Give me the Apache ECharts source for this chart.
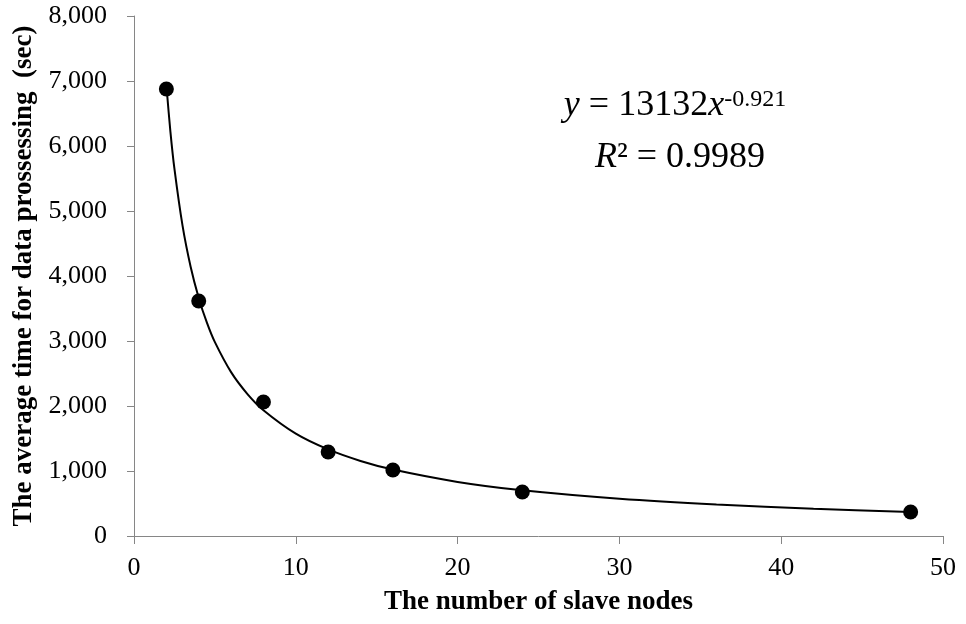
<!DOCTYPE html>
<html><head><meta charset="utf-8">
<script src="https://cdn.jsdelivr.net/npm/echarts@6/dist/echarts.min.js"></script>
<style>html,body{margin:0;padding:0;background:#fff}#c{width:966px;height:624px}</style>
</head><body><div id="c"></div>
<script>
const nodes = [2, 4, 8, 12, 16, 24, 48];
const times = [6877, 3615, 2062, 1292, 1015, 677, 369];
const trendX = [2, 2.25, 2.5, 3, 3.5, 4, 4.5, 5, 6, 7, 8, 10, 12, 14, 16, 20, 24, 30, 36, 42, 48];
const trendY = [6936, 6222, 5647, 4774, 4142, 3663, 3286, 2982, 2521, 2188, 1935, 1575, 1332, 1155, 1022, 832, 703, 573, 484, 420, 371];
const xTitle = 'The number of slave nodes';
const yTitle = 'The average time for data prossessing  (sec)';

const chart = echarts.init(document.getElementById('c'), null, {renderer: 'canvas'});
const serif = '"Liberation Serif", "Times New Roman", serif';
chart.setOption({
  animation: false,
  backgroundColor: '#fff',
  grid: {left: 134, right: 23, top: 16, bottom: 88},
  xAxis: {
    type: 'value', min: 0, max: 50, interval: 10,
    name: xTitle, nameLocation: 'middle', nameGap: 53,
    nameTextStyle: {fontFamily: serif, fontWeight: 'bold', fontSize: 27, color: '#000'},
    axisLine: {lineStyle: {color: '#868686', width: 1}},
    axisTick: {show: true, length: 8, lineStyle: {color: '#868686'}},
    axisLabel: {fontFamily: serif, fontSize: 26, color: '#000', margin: 19},
    splitLine: {show: false}
  },
  yAxis: {
    type: 'value', min: 0, max: 8000, interval: 1000,
    name: yTitle, nameLocation: 'middle', nameGap: 94,
    nameTextStyle: {fontFamily: serif, fontWeight: 'bold', fontSize: 27, color: '#000'},
    axisLine: {show: true, lineStyle: {color: '#868686', width: 1}},
    axisTick: {show: true, length: 7, lineStyle: {color: '#868686'}},
    axisLabel: {fontFamily: serif, fontSize: 26, color: '#000', margin: 27,
      formatter: v => v.toLocaleString('en-US')},
    splitLine: {show: false}
  },
  series: [
    {type: 'line', data: trendX.map((x, i) => [x, trendY[i]]), smooth: 0.3, showSymbol: false,
     lineStyle: {color: '#000', width: 2}, z: 2},
    {type: 'scatter', data: nodes.map((x, i) => [x, times[i]]), symbol: 'circle', symbolSize: 15,
     itemStyle: {color: '#000', opacity: 1}, z: 3}
  ],
  graphic: [
    {type: 'text', x: 675, y: 106, style: {
      text: '{i|y} = 13132{i|x}{s|-0.921}',
      font: '36px ' + serif, fill: '#000', align: 'center', verticalAlign: 'middle',
      rich: {i: {fontStyle: 'italic', fontFamily: serif, fontSize: 36},
             s: {fontFamily: serif, fontSize: 24, verticalAlign: 'top'}}
    }},
    {type: 'text', x: 680, y: 158, style: {
      text: '{i|R}² = 0.9989',
      font: '36px ' + serif, fill: '#000', align: 'center', verticalAlign: 'middle',
      rich: {i: {fontStyle: 'italic', fontFamily: serif, fontSize: 36}}
    }}
  ]
});
</script></body></html>
